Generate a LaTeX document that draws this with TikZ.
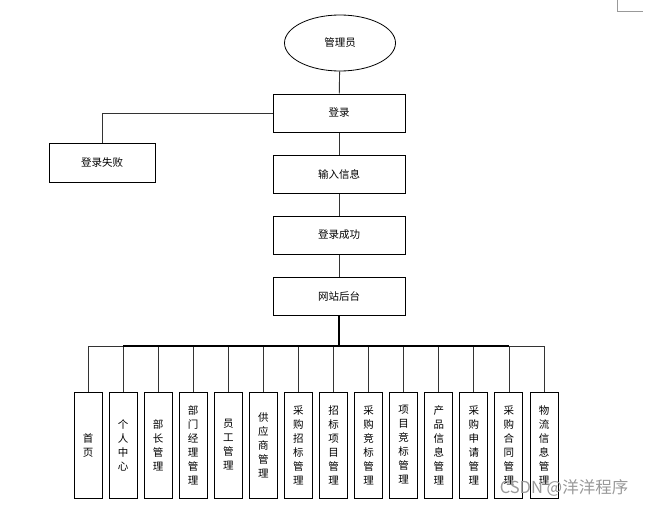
\documentclass[tikz,border=0pt]{standalone}
\usepackage{fontspec}
\newfontfamily\cjk{Noto Sans CJK SC}
\usetikzlibrary{shapes.geometric}

\begin{document}
\begin{tikzpicture}[
        x=1pt, y=-1pt,
        every node/.style={font=\cjk\fontsize{10.5}{14}\selectfont},
        box/.style={draw, line width=1pt, minimum width=132pt, minimum height=38pt},
        leaf/.style={draw, line width=1pt, minimum width=28pt, minimum height=106pt,
          inner sep=0pt, align=center, text width=14pt},
        link/.style={line width=0.9pt, draw=black!80},
      ]
      \useasboundingbox (0,0) rectangle (648,506);

      \node[ellipse, draw, line width=0.8pt, minimum width=111pt, minimum height=56pt] (admin) at (340,43) {管理员};
      \node[box] (login) at (339,113) {登录};
      \node[box, minimum width=106pt, minimum height=39pt] (fail) at (102,163) {登录失败};
      \node[box] (input) at (339,174) {输入信息};
      \node[box] (success) at (339,235) {登录成功};
      \node[box] (site) at (339,296) {网站后台};

      \draw[link] (admin) -- (login);
      \draw[link] (login.west) -| (fail.north);
      \draw[link] (login) -- (input);
      \draw[link] (input) -- (success);
      \draw[link] (success) -- (site);
      \draw[line width=1.4pt] (site.south) -- (339,346) coordinate (bus);

      % modules
      \foreach \name [count=\i from 0] in {首\\页, 个\\人\\中\\心, 部\\长\\管\\理, 部\\门\\经\\理\\管\\理,
          员\\工\\管\\理, 供\\应\\商\\管\\理, 采\\购\\招\\标\\管\\理, 招\\标\\项\\目\\管\\理,
          采\\购\\竞\\标\\管\\理, 项\\目\\竞\\标\\管\\理, 产\\品\\信\\息\\管\\理,
          采\\购\\申\\请\\管\\理, 采\\购\\合\\同\\管\\理, 物\\流\\信\\息\\管\\理} {
        \node[leaf] (m\i) at (88+35.08*\i,445) {\name};
        \draw[link] (bus) -| (m\i.north);
      }

      \draw[line width=1.2pt] (123,346) -- (509,346);

      \node[text=black!40, font=\sffamily\cjk\fontsize{16.5}{18}\selectfont] (mark) at (564,488) {CSDN @洋洋程序};
      \draw[black!40, line width=0.8pt] (617,0) -- (617,11) -- (643,11);

    \end{tikzpicture}
\end{document}
